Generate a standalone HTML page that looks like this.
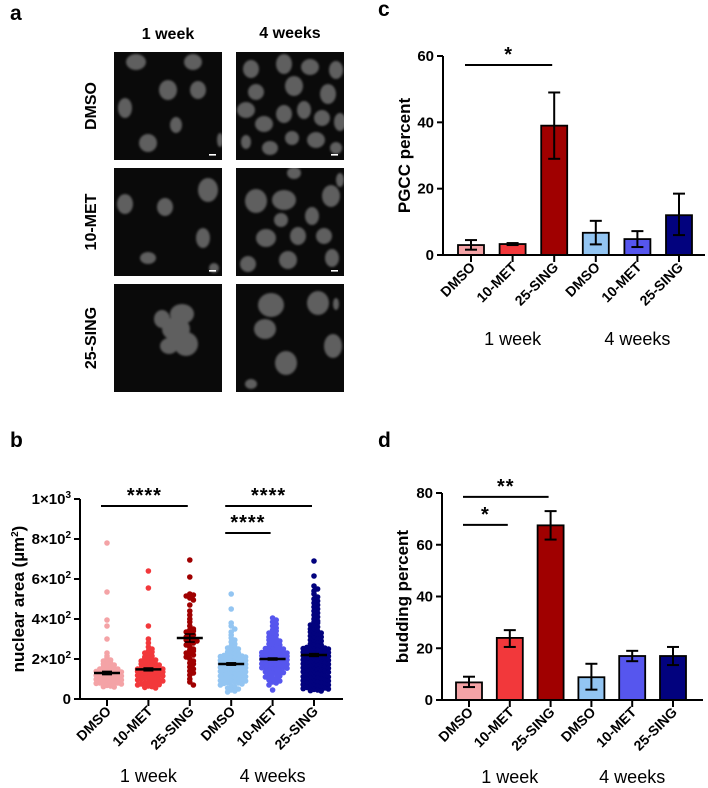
<!DOCTYPE html>
<html><head><meta charset="utf-8">
<style>
html,body{margin:0;padding:0;background:#fff;}
svg{display:block;font-family:"Liberation Sans",Arial,sans-serif;}
.b{font-weight:bold;}
</style></head>
<body>
<svg id="fig" width="708" height="788" viewBox="0 0 708 788" xmlns="http://www.w3.org/2000/svg">
<defs><filter id="blur" x="-20%" y="-20%" width="140%" height="140%"><feGaussianBlur stdDeviation="1.1"/></filter></defs>
<text x="10" y="20" font-size="21" class="b">a</text>
<text x="10" y="447" font-size="21" class="b">b</text>
<text x="378" y="16" font-size="21" class="b">c</text>
<text x="378" y="447" font-size="21" class="b">d</text>
<text x="168" y="39" font-size="16" class="b" text-anchor="middle">1 week</text>
<text x="290" y="38" font-size="16" class="b" text-anchor="middle">4 weeks</text>
<text transform="translate(96,106) rotate(-90)" font-size="16" class="b" text-anchor="middle">DMSO</text>
<text transform="translate(96,222) rotate(-90)" font-size="16" class="b" text-anchor="middle">10-MET</text>
<text transform="translate(96,338) rotate(-90)" font-size="16" class="b" text-anchor="middle">25-SING</text>
<g id="micro"></g>
<g id="pb"></g>
<g id="pc"></g>
<g id="pd"></g>
</svg>
<script>
const NS="http://www.w3.org/2000/svg";
function mk(p,tag,at,txt){const e=document.createElementNS(NS,tag);for(const k in at)e.setAttribute(k,at[k]);if(txt!==undefined)e.textContent=txt;p.appendChild(e);return e;}

// ---------- micrographs ----------
const imgX=[114,236], imgY=[52,168,284], imgS=108;
const nuclei=[
 [[22,10,10,8],[79,10,9,8],[54,38,9,10],[84,38,8,9],[11,56,7,10],[62,73,6,8],[34,91,9,9],[106,88,3,7]],
 [[15,17,8,9],[48,12,8,10],[74,15,9,8],[100,18,7,9],[20,40,8,8],[58,34,9,10],[92,42,8,10],[10,58,9,8],[28,72,9,8],[48,62,8,9],[68,58,7,9],[86,66,8,8],[104,70,6,9],[34,96,8,7],[56,86,7,7],[80,88,9,8],[10,90,5,7],[100,96,6,6]],
 [[11,36,8,10],[51,39,8,9],[94,22,10,12],[89,70,7,10],[34,90,8,6],[100,100,5,5]],
 [[20,33,11,12],[48,32,12,10],[95,28,9,11],[58,5,7,6],[76,48,7,9],[30,70,10,9],[62,68,8,9],[88,68,8,8],[96,90,7,9],[52,92,9,9],[12,96,8,8],[104,12,4,7],[45,52,7,7]],
 [[62,45,14,12],[72,60,12,12],[55,62,9,8],[68,30,12,10],[48,35,8,9]],
 [[35,21,13,12],[82,19,11,12],[29,45,11,10],[97,62,9,12],[50,79,11,12],[100,20,3,6],[15,100,6,5]]
];
const micro=document.getElementById('micro');
let k=0;
for(let r=0;r<3;r++)for(let c=0;c<2;c++){
 const g=mk(micro,'g',{});
 
 
 mk(g,'rect',{x:imgX[c],y:imgY[r],width:imgS,height:imgS,fill:'#0a0a0a'});
 const cp=mk(g,'clipPath',{id:'cp'+k});mk(cp,'rect',{x:imgX[c],y:imgY[r],width:imgS,height:imgS});
 const gg=mk(g,'g',{'clip-path':'url(#cp'+k+')',filter:'url(#blur)'});
 nuclei[k].forEach(n=>{mk(gg,'ellipse',{cx:imgX[c]+n[0],cy:imgY[r]+n[1],rx:n[2],ry:n[3],fill:'#5e5e5e'});});
 if(r<2) mk(g,'rect',{x:imgX[c]+95,y:imgY[r]+102,width:7,height:1.6,fill:'#fff'});
 k++;
}

// ---------- shared ----------
const cats=['DMSO','10-MET','25-SING','DMSO','10-MET','25-SING'];
const colors=['#f4a3a6','#f2383b','#a00000','#93c5f2','#5656ee','#02027e'];
const groups=['1 week','4 weeks'];
function axes(g,ax){
 mk(g,'line',{x1:ax.x0,y1:ax.y0,x2:ax.x0,y2:ax.yTop,stroke:'#000','stroke-width':2});
 mk(g,'line',{x1:ax.x0-1,y1:ax.y0,x2:ax.x1,y2:ax.y0,stroke:'#000','stroke-width':2});
 ax.ticks.forEach((t,i)=>{const y=ax.sy(t);
  mk(g,'line',{x1:ax.x0-6,y1:y,x2:ax.x0,y2:y,stroke:'#000','stroke-width':2});
  const tx=mk(g,'text',{x:ax.x0-9,y:y+5,'font-size':15,'font-weight':'bold','text-anchor':'end'});
  
  if(ax.tickLabels){const parts=ax.tickLabels[i].split('^');tx.textContent=parts[0];if(parts[1]){mk(tx,'tspan',{dy:-6,'font-size':10},parts[1]);}}
  else tx.textContent=t;
 });
 cats.forEach((c,i)=>{const x=ax.sx(i);
  mk(g,'line',{x1:x,y1:ax.y0,x2:x,y2:ax.y0+7,stroke:'#000','stroke-width':2});
  const tx=mk(g,'text',{transform:`translate(${x+5},${ax.y0+13}) rotate(-45)`,'font-size':14,'font-weight':'bold','text-anchor':'end'},c);
  
 });
 groups.forEach((gr,i)=>{const x=(ax.sx(i*3)+ax.sx(i*3+2))/2;
  const tx=mk(g,'text',{x:x,y:ax.gy,'font-size':18,'text-anchor':'middle'},gr);
  
 });
 const yt=mk(g,'text',{transform:`translate(${ax.titleX},${(ax.y0+ax.yTop)/2}) rotate(-90)`,'font-size':17,'font-weight':'bold','text-anchor':'middle'},ax.title);
 
 if(ax.sup){mk(yt,'tspan',{dy:-6,'font-size':10},ax.sup);mk(yt,'tspan',{dy:6},')');}
}
function sig(g,ax,a,b,yv,stars){
 const y=ax.sy(yv);
 const l=mk(g,'line',{x1:ax.sx(a)-6,y1:y,x2:ax.sx(b)-2,y2:y,stroke:'#000','stroke-width':2});
 
 const t=mk(g,'text',{x:(ax.sx(a)+ax.sx(b))/2-4,y:y-4,'font-size':20,'font-weight':'bold','text-anchor':'middle','letter-spacing':'1'},stars);
 
}

// ---------- panel b data ----------
const bTicks=[0,200,400,600,800,1000];
const bTickLabels=['0','2×10^2','4×10^2','6×10^2','8×10^2','1×10^3'];
const bMeans=[130,148,305,175,200,220];
const bSem=[8,7,20,6,5,7];
const bG1=[780,535,395,365,300,230,215,205,195,190,185,180,175,170,165,160,160,155,150,150,148,145,145,142,140,140,138,135,135,132,130,130,128,125,125,122,120,120,118,115,115,112,110,110,108,105,105,102,100,100,98,95,95,92,90,90,88,85,85,82,80,80,78,75,72,70,68,65,62,60];
const bG2=[640,555,365,300,280,260,250,240,235,230,220,215,210,205,200,200,195,190,185,185,180,175,175,170,165,165,160,160,155,155,150,150,148,145,145,142,140,140,138,135,135,132,130,130,128,125,125,122,120,120,118,115,115,112,110,110,108,105,105,100,100,95,95,90,90,85,85,80,80,75,72,70,65,62,58,55];
const bG3=[695,610,525,520,515,505,495,470,440,420,400,385,365,350,345,340,335,325,320,310,305,300,295,290,285,280,270,260,250,245,240,230,225,220,210,200,190,180,175,160,150,140,130,120,100,85,70];
const bG4=[525,450,380,365,350,335,320,305,295,285,275,265,260,255,250,245,240,235,230,228,225,222,220,218,215,212,210,208,205,202,200,198,196,194,192,190,188,186,184,182,180,178,176,174,172,170,170,168,166,164,162,160,160,158,156,154,152,150,150,148,146,144,142,140,140,138,136,134,132,130,128,126,124,122,120,118,115,112,110,108,105,102,100,98,95,92,90,88,85,82,80,78,75,70,65,60,55,50,45,40,35];
const bG5=[405,395,385,375,365,355,345,340,330,325,320,310,305,300,295,290,285,280,275,270,265,262,258,255,252,250,248,245,242,240,238,235,232,230,228,226,224,222,220,218,216,214,212,210,208,206,204,202,200,200,198,196,194,192,190,188,186,184,182,180,178,176,174,172,170,168,166,164,162,160,158,156,154,152,150,148,145,142,140,136,132,128,125,120,115,110,105,100,95,90,85,80,70,45];
const bG6=[690,615,565,550,540,525,510,500,490,480,470,460,450,440,430,420,410,400,390,385,380,370,365,360,350,345,340,335,330,325,320,315,310,305,300,295,290,285,280,275,270,268,265,262,260,258,255,252,250,248,245,242,240,238,236,234,232,230,228,226,224,222,220,218,216,214,212,210,208,206,204,202,200,198,196,194,192,190,188,186,184,182,180,178,176,174,172,170,168,166,164,162,160,158,156,154,152,150,148,146,144,142,140,138,136,134,132,130,128,125,122,120,118,115,112,110,108,105,102,100,98,95,92,90,88,85,82,80,78,75,72,70,68,65,62,60,58,55,52,50,48,45,42,40];
const bData=[bG1,bG2,bG3,bG4,bG5,bG6];
(function(){
 const g=document.getElementById('pb');
 const ax={x0:80,x1:343,y0:699,yTop:499,gy:782,titleX:24,title:'nuclear area (µm',sup:'2',ticks:bTicks,tickLabels:bTickLabels,
  sy:v=>699-v*200/1000, sx:i=>107+i*41.4};
 bData.forEach((vals,gi)=>{
  const cx=ax.sx(gi);const bins={};
  const s=mk(g,'g',{});
  
  
  vals.forEach(v=>{
   const b=Math.round(v/20);bins[b]=(bins[b]||0)+1;const n=bins[b]-1;
   const slot=n%8; const off=(slot===0?0:(slot%2?1:-1)*Math.ceil(slot/2)*3.6)+(Math.floor(n/8)%2?1.8:0);
   const d=mk(s,'circle',{cx:cx+off,cy:ax.sy(v),r:2.8,fill:colors[gi]});
   
   
  });
  const m=mk(g,'line',{x1:cx-13,y1:ax.sy(bMeans[gi]),x2:cx+13,y2:ax.sy(bMeans[gi]),stroke:'#000','stroke-width':2.5});
  
  [1,-1].forEach(sg=>{mk(g,'line',{x1:cx,y1:ax.sy(bMeans[gi]),x2:cx,y2:ax.sy(bMeans[gi]+sg*bSem[gi]),stroke:'#000','stroke-width':1.5});
   mk(g,'line',{x1:cx-5,y1:ax.sy(bMeans[gi]+sg*bSem[gi]),x2:cx+5,y2:ax.sy(bMeans[gi]+sg*bSem[gi]),stroke:'#000','stroke-width':1.5});});
 });
 axes(g,ax);
 sig(g,ax,0,2,965,'****');sig(g,ax,3,5,965,'****');sig(g,ax,3,4,830,'****');
})();

// ---------- bar charts ----------
const cTicks=[0,20,40,60];
const cVals=[3,3.3,39,6.7,4.8,12];
const cLo=[1.6,3,29,3.2,2.4,6];
const cHi=[4.5,3.6,49,10.3,7.2,18.5];
const dTicks=[0,20,40,60,80];
const dVals=[6.8,24,67.5,8.8,17,17];
const dLo=[5,20.5,62,4,15,13.5];
const dHi=[9,27,73,14,19,20.5];
function bars(g,ax,vals,lo,hi){
 vals.forEach((v,i)=>{const x=ax.sx(i);
  const r=mk(g,'rect',{x:x-13,y:ax.sy(v),width:26,height:ax.y0-ax.sy(v),fill:colors[i],stroke:'#000','stroke-width':1.8});
  
  
  const e=mk(g,'g',{stroke:'#000','stroke-width':2});
  
  mk(e,'line',{x1:x,y1:ax.sy(lo[i]),x2:x,y2:ax.sy(hi[i])});
  mk(e,'line',{x1:x-6,y1:ax.sy(lo[i]),x2:x+6,y2:ax.sy(lo[i])});
  mk(e,'line',{x1:x-6,y1:ax.sy(hi[i]),x2:x+6,y2:ax.sy(hi[i])});
 });
}
(function(){
 const g=document.getElementById('pc');
 const ax={x0:443,x1:705,y0:255,yTop:56,gy:345,titleX:410,title:'PGCC percent',ticks:cTicks,
  sy:v=>255-v*199/60, sx:i=>471+i*41.6};
 bars(g,ax,cVals,cLo,cHi);axes(g,ax);
 sig(g,ax,0,2,57.3,'*');
})();
(function(){
 const g=document.getElementById('pd');
 const ax={x0:442,x1:703,y0:700,yTop:493,gy:783,titleX:408,title:'budding percent',ticks:dTicks,
  sy:v=>700-v*207/80, sx:i=>469+i*40.8};
 bars(g,ax,dVals,dLo,dHi);axes(g,ax);
 sig(g,ax,0,2,78.5,'**');sig(g,ax,0,1,67.7,'*');
})();
</script>
</body></html>
